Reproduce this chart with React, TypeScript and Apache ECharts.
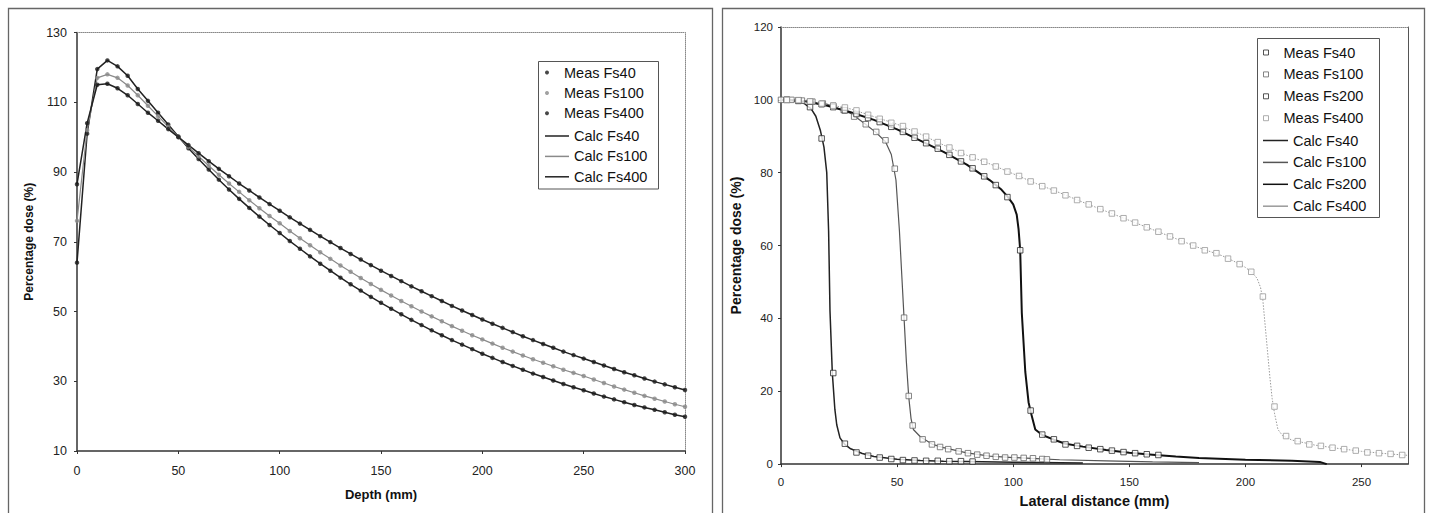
import React, { useEffect, useRef } from "react";
import * as echarts from "echarts";

const FONT = "'Liberation Sans', Arial, Helvetica, sans-serif";

// ---------- Left chart: depth dose ----------
const depthMm = [
  0, 5, 10, 15, 20, 25, 30, 35, 40, 45, 50,
  55, 60, 65, 70, 75, 80, 85, 90, 95, 100,
  105, 110, 115, 120, 125, 130, 135, 140, 145, 150,
  155, 160, 165, 170, 175, 180, 185, 190, 195, 200,
  205, 210, 215, 220, 225, 230, 235, 240, 245, 250,
  255, 260, 265, 270, 275, 280, 285, 290, 295, 300,
];
const measFs40 = [
  64, 101, 119.5, 122, 120.3, 117.6, 113.8, 110.4, 107, 103.6, 100.2,
  96.8, 93.7, 90.7, 87.8, 85.0, 82.3, 79.7, 77.2, 74.8, 72.5,
  70.2, 68.0, 65.8, 63.7, 61.7, 59.7, 57.8, 56.0, 54.2, 52.5,
  50.8, 49.2, 47.6, 46.1, 44.6, 43.2, 41.8, 40.5, 39.2, 37.9,
  36.7, 35.5, 34.4, 33.3, 32.2, 31.2, 30.2, 29.2, 28.3, 27.4,
  26.5, 25.6, 24.8, 24.0, 23.2, 22.5, 21.8, 21.1, 20.4, 19.8,
];
const measFs100 = [
  76, 102, 117, 118, 117, 114.8, 112, 109, 106, 103, 100,
  97.2, 94.5, 91.8, 89.2, 86.7, 84.3, 81.9, 79.6, 77.4, 75.3,
  73.1, 71.0, 69.0, 67.0, 65.1, 63.2, 61.4, 59.6, 57.9, 56.2,
  54.6, 53.0, 51.5, 50.0, 48.6, 47.2, 45.8, 44.5, 43.2, 42.0,
  40.8, 39.6, 38.5, 37.4, 36.3, 35.3, 34.3, 33.3, 32.4, 31.5,
  30.5, 29.5, 28.5, 27.6, 26.7, 25.8, 25.0, 24.2, 23.4, 22.7,
];
const measFs400 = [
  86.5, 104, 115, 115.3, 114, 112, 109.5, 107, 104.7, 102.3, 100,
  97.7, 95.4, 93.1, 90.9, 88.8, 86.7, 84.7, 82.7, 80.8, 78.9,
  77.0, 75.2, 73.4, 71.6, 69.9, 68.2, 66.5, 64.9, 63.3, 61.7,
  60.2, 58.7, 57.2, 55.8, 54.4, 53.0, 51.6, 50.3, 49.0, 47.7,
  46.5, 45.3, 44.1, 42.9, 41.8, 40.7, 39.6, 38.5, 37.5, 36.5,
  35.5, 34.5, 33.5, 32.6, 31.7, 30.8, 29.9, 29.1, 28.3, 27.5,
];
// calculated depth-dose curves coincide with the measurements
const calcFs40 = measFs40;
const calcFs100 = measFs100;
const calcFs400 = measFs400;

// ---------- Right chart: lateral profiles ([mm, %]) ----------
const latMeasFs40 = [
  [2.5, 100], [7.5, 99.7], [12.5, 98.0], [17.5, 89.4], [22.5, 25.0], [27.5, 5.6],
  [32.5, 3.2], [37.5, 2.3], [42.5, 1.8], [47.5, 1.4], [52.5, 1.1], [57.5, 1.0],
  [62.5, 0.9], [67.5, 0.9], [72.5, 0.8], [77.5, 0.8], [82.5, 0.7],
];
const latMeasFs100 = [
  [0, 100], [4.5, 100], [9, 99.8], [13.5, 99.5], [18, 99.0], [22.5, 98.4], [27, 97.2],
  [31.5, 95.4], [36.5, 93.3], [41, 91.2], [45, 88.9], [49, 81.1], [53, 40.2], [55, 18.7],
  [56.7, 10.6], [61, 6.8], [65, 5.4], [68.5, 4.7], [72, 4.1], [76.5, 3.5], [80.5, 3.0],
  [84.5, 2.6], [88.5, 2.3], [92.5, 2.0], [96.5, 1.8], [100.5, 1.8], [104.5, 1.7],
  [108.5, 1.6], [112.5, 1.4], [114.5, 1.3],
];
const latMeasFs200 = [
  [2.5, 100], [7.5, 99.9], [12.5, 99.5], [17.5, 98.8], [22.5, 98.0], [27.5, 97.1],
  [32.5, 96.1], [37.5, 95.0], [42.5, 93.9], [47.5, 92.6], [52.5, 91.2], [57.5, 89.6],
  [62.5, 88.1], [67.5, 86.6], [72.5, 84.9], [77.5, 83.1], [82.5, 81.2], [87.5, 79.0],
  [92.5, 76.6], [97.5, 73.3], [103, 58.7], [107.5, 14.7], [112.5, 8.1], [117.5, 6.8],
  [122.5, 5.4], [127.5, 5.0], [132.5, 4.5], [137.5, 4.1], [142.5, 3.7], [147.5, 3.3],
  [152.5, 3.0], [157.5, 2.7], [162.5, 2.5],
];
const latMeasFs400 = [
  [2.5, 100], [7.5, 99.9], [12.5, 99.6], [17.5, 99.0], [22.5, 98.4], [27.5, 97.9],
  [32.5, 97.1], [37.5, 95.9], [42.5, 94.8], [47.5, 93.7], [52.5, 92.8], [57.5, 91.3],
  [62.5, 89.9], [67.5, 88.4], [72.5, 86.9], [77.5, 85.4], [82.5, 84.2], [87.5, 83.0],
  [92.5, 81.7], [97.5, 80.3], [102.5, 79.1], [107.5, 77.6], [112.5, 76.3], [117.5, 75.1],
  [122.5, 73.8], [127.5, 72.5], [132.5, 71.3], [137.5, 70.0], [142.5, 68.8], [147.5, 67.5],
  [152.5, 66.3], [157.5, 65.0], [162.5, 63.8], [167.5, 62.5], [172.5, 61.2], [177.5, 60.0],
  [182.5, 58.7], [187.5, 57.9], [192.5, 56.4], [197.5, 54.9], [202.5, 52.8], [207.5, 46.0],
  [212.5, 15.8], [217.5, 7.7], [222.5, 6.3], [227.5, 5.4], [232.5, 5.0], [237.5, 4.5],
  [242.5, 4.1], [247.5, 3.7], [252.5, 3.2], [257.5, 3.0], [262.5, 2.8], [267.5, 2.5],
];
const latCalcFs40 = [
  [0, 100], [5, 99.8], [10, 99.0], [13, 97.5], [15, 95.5], [17, 91.5], [18.5, 87],
  [19.7, 80], [20.5, 64], [21.1, 42], [22.1, 25], [23.2, 15], [24, 10.8], [25.4, 7.2],
  [27.5, 5.4], [30, 4.2], [35, 2.9], [40, 2.1], [50, 1.3], [60, 1.0], [70, 0.8],
  [80, 0.7], [100, 0.5], [130, 0.3],
];
const latCalcFs100 = [
  [0, 100], [10, 99.7], [20, 98.8], [30, 96.3], [36, 93.5], [41, 91], [45, 88.5],
  [47.5, 85], [49.5, 78], [51, 64], [52, 52], [53, 40], [54, 28], [55, 18.5], [56, 12.5],
  [57, 9.5], [60, 7.5], [65, 5.5], [70, 4.5], [80, 3.1], [90, 2.2], [100, 1.8],
  [110, 1.5], [120, 1.2], [140, 0.9], [160, 0.6], [180, 0.4],
];
const latCalcFs200 = [
  [0, 100], [10, 99.7], [20, 98.4], [30, 96.6], [40, 94.5], [50, 91.9], [60, 88.8],
  [70, 85.7], [80, 82.2], [90, 77.9], [95, 75.3], [97.5, 73.5], [100, 71.3], [101.5, 68.5],
  [102.3, 64.5], [103, 58.7], [103.7, 41.5], [105.2, 25.3], [106.6, 17], [107.6, 14.2],
  [109.5, 9.5], [112.5, 8.0], [117.5, 6.7], [122.5, 5.6], [130, 4.8], [140, 3.9],
  [150, 3.1], [160, 2.6], [170, 2.1], [180, 1.7], [200, 1.2], [220, 0.9], [232, 0.6],
  [235, 0],
];
const latCalcFs400 = [
  [0, 100], [10, 99.8], [20, 98.8], [30, 97.5], [40, 95.4], [50, 93.3], [60, 90.6],
  [70, 87.6], [80, 84.8], [90, 82.4], [100, 79.7], [110, 77], [120, 74.5], [130, 71.9],
  [140, 69.4], [150, 66.9], [160, 64.4], [170, 61.9], [180, 59.4], [190, 57.2],
  [195, 55.7], [200, 54.0], [203, 52.5], [205, 51], [206.5, 48.5], [207.5, 45],
  [208.5, 38], [209.5, 31], [210.5, 24], [211.5, 18], [212.5, 14], [214, 9.5],
  [216, 7.8], [220, 6.6], [230, 5.2], [240, 4.3], [250, 3.5], [260, 2.9], [270, 2.4],
];

const leftMeasNames = ["Meas Fs40", "Meas Fs100", "Meas Fs400"];
const leftCalcNames = ["Calc Fs40", "Calc Fs100", "Calc Fs400"];
const rightMeasNames = ["Meas Fs40", "Meas Fs100", "Meas Fs200", "Meas Fs400"];
const rightCalcNames = ["Calc Fs40", "Calc Fs100", "Calc Fs200", "Calc Fs400"];

const pairs = (xs: number[], ys: number[]) => xs.map((x, i) => [x, ys[i]]);

const tickLabel = (size: number, margin: number) => ({
  fontSize: size,
  color: "#222",
  margin,
  fontFamily: FONT,
});
const mainLine = { show: true, onZero: false, lineStyle: { color: "#333", width: 1.5 } };
const mainTick = { show: true, length: 3, lineStyle: { color: "#333", width: 1 } };
const dottedLine = { show: true, onZero: false, lineStyle: { color: "#888", width: 1, type: [1, 1] } };
const hidden = { axisTick: { show: false }, axisLabel: { show: false }, splitLine: { show: false } };
const legendText = { fontSize: 14.5, color: "#111", fontFamily: FONT };

function leftOption(): any {
  const meas = [measFs40, measFs100, measFs400];
  const calc = [calcFs40, calcFs100, calcFs400];
  const measColors = ["#1a1a1a", "#8a8a8a", "#1a1a1a"];
  const calcColors = ["#222", "#8a8a8a", "#222"];
  const calcWidths = [1.5, 1.2, 1.5];
  return {
    animation: false,
    textStyle: { fontFamily: FONT },
    grid: { left: 77, top: 32.5, width: 608, height: 418.5 },
    xAxis: [
      {
        type: "value", min: 0, max: 300, interval: 50, position: "bottom",
        axisLine: mainLine, axisTick: mainTick, axisLabel: tickLabel(12.5, 13),
        splitLine: { show: false },
        name: "Depth (mm)", nameLocation: "middle", nameGap: 37,
        nameTextStyle: { fontSize: 13, fontWeight: "bold", color: "#111", fontFamily: FONT },
      },
      { type: "value", min: 0, max: 300, position: "top", axisLine: dottedLine, ...hidden },
    ],
    yAxis: [
      {
        type: "value", min: 10, max: 130, interval: 20, position: "left",
        axisLine: mainLine, axisTick: mainTick, axisLabel: tickLabel(12.5, 10),
        splitLine: { show: false },
        name: "Percentage dose (%)", nameLocation: "middle", nameGap: 40,
        nameTextStyle: { fontSize: 12, fontWeight: "bold", color: "#111", fontFamily: FONT },
      },
      { type: "value", min: 10, max: 130, position: "right", axisLine: dottedLine, ...hidden },
    ],
    legend: [
      {
        orient: "vertical", left: 545, top: 65, padding: 0, itemWidth: 24, itemHeight: 4,
        itemGap: 5.4, selectedMode: false, icon: "circle", itemStyle: { borderWidth: 0 },
        textStyle: legendText, data: leftMeasNames, z: 5,
      },
      {
        orient: "vertical", left: 545, top: 128.5, padding: 0, itemWidth: 24, itemHeight: 1.5,
        itemGap: 5.4, selectedMode: false, icon: "rect", itemStyle: { borderWidth: 0 },
        textStyle: legendText, data: leftCalcNames, z: 5,
      },
    ],
    graphic: [
      {
        type: "polyline", silent: true,
        shape: { points: [[8.5, 513], [8.5, 8.5], [712.5, 8.5], [712.5, 513]] },
        style: { stroke: "#666", lineWidth: 1.3, fill: "none" },
      },
      {
        type: "rect", silent: true, z: 3,
        shape: { x: 538.5, y: 61.5, width: 120, height: 127.5 },
        style: { stroke: "#555", lineWidth: 1, fill: "#fff" },
      },
    ],
    series: [
      ...calc.map((c, i) => ({
        type: "line", name: leftCalcNames[i], data: pairs(depthMm, c),
        symbol: "none", showSymbol: false, silent: true, z: 2,
        lineStyle: { color: calcColors[i], width: calcWidths[i] },
        itemStyle: { color: calcColors[i] },
      })),
      ...meas.map((m, i) => ({
        type: "scatter", name: leftMeasNames[i], data: pairs(depthMm, m),
        symbol: "circle", symbolSize: 4.5, silent: true, z: 3,
        itemStyle: { color: measColors[i] },
      })),
    ],
  };
}

function rightOption(): any {
  const meas = [latMeasFs40, latMeasFs100, latMeasFs200, latMeasFs400];
  const calc = [latCalcFs40, latCalcFs100, latCalcFs200, latCalcFs400];
  const measColors = ["#2a2a2a", "#666", "#2a2a2a", "#9a9a9a"];
  const calcColors = ["#222", "#555", "#111", "#9a9a9a"];
  const calcWidths = [1.5, 1.2, 2, 1];
  const calcTypes: any[] = ["solid", "solid", "solid", [1.5, 1.5]];
  return {
    animation: false,
    textStyle: { fontFamily: FONT },
    grid: { left: 64, top: 27, width: 627, height: 443 },
    xAxis: [
      {
        type: "value", min: 0, max: 270, interval: 50, position: "bottom",
        axisLine: mainLine, axisTick: mainTick,
        axisLabel: { ...tickLabel(11.5, 12), showMaxLabel: false },
        splitLine: { show: false },
        name: "Lateral distance (mm)", nameLocation: "middle", nameGap: 19,
        nameTextStyle: { fontSize: 14.5, fontWeight: "bold", color: "#111", fontFamily: FONT },
      },
      { type: "value", min: 0, max: 270, position: "top", axisLine: dottedLine, ...hidden },
    ],
    yAxis: [
      {
        type: "value", min: 0, max: 120, interval: 20, position: "left",
        axisLine: mainLine, axisTick: mainTick, axisLabel: tickLabel(11.5, 8),
        splitLine: { show: false },
        name: "Percentage dose (%)", nameLocation: "middle", nameGap: 32,
        nameTextStyle: { fontSize: 14, fontWeight: "bold", color: "#111", fontFamily: FONT },
      },
      {
        type: "value", min: 0, max: 120, position: "right",
        axisLine: { show: true, onZero: false, lineStyle: { color: "#555", width: 1 } }, ...hidden,
      },
    ],
    legend: [
      {
        orient: "vertical", left: 546, top: 45, padding: 0, itemWidth: 25, itemHeight: 5,
        itemGap: 6.9, selectedMode: false, icon: "path://M0,0L10,0L10,10L0,10Z",
        itemStyle: { borderWidth: 1 }, textStyle: legendText, data: rightMeasNames, z: 5,
      },
      {
        orient: "vertical", left: 546, top: 133, padding: 0, itemWidth: 25, itemHeight: 1.5,
        itemGap: 6.9, selectedMode: false, icon: "rect", itemStyle: { borderWidth: 0 },
        textStyle: legendText, data: rightCalcNames, z: 5,
      },
    ],
    graphic: [
      {
        type: "polyline", silent: true,
        shape: { points: [[5.5, 513], [5.5, 8.5], [707.5, 8.5], [707.5, 513]] },
        style: { stroke: "#666", lineWidth: 1.3, fill: "none" },
      },
      {
        type: "rect", silent: true, z: 3,
        shape: { x: 540.5, y: 38.5, width: 122, height: 179 },
        style: { stroke: "#555", lineWidth: 1, fill: "#fff" },
      },
    ],
    series: [
      ...calc.map((c, i) => ({
        type: "line", name: rightCalcNames[i], data: c,
        symbol: "none", showSymbol: false, silent: true, z: 2,
        lineStyle: { color: calcColors[i], width: calcWidths[i], type: calcTypes[i] },
        itemStyle: { color: calcColors[i] },
      })),
      ...meas.map((m, i) => ({
        type: "scatter", name: rightMeasNames[i], data: m,
        symbol: "rect", symbolSize: 5.5, silent: true, z: 3,
        itemStyle: { color: "#fff", borderColor: measColors[i], borderWidth: 1 },
      })),
    ],
  };
}

export default function App() {
  const leftRef = useRef<HTMLDivElement>(null);
  const rightRef = useRef<HTMLDivElement>(null);
  useEffect(() => {
    const l = echarts.init(leftRef.current!, undefined, { renderer: "svg" });
    const r = echarts.init(rightRef.current!, undefined, { renderer: "svg" });
    l.setOption(leftOption());
    r.setOption(rightOption());
    return () => {
      l.dispose();
      r.dispose();
    };
  }, []);
  return (
    <div style={{ position: "fixed", left: 0, top: 0, width: 1431, height: 513, background: "#fff" }}>
      <div ref={leftRef} style={{ position: "absolute", left: 0, top: 0, width: 717, height: 513 }} />
      <div ref={rightRef} style={{ position: "absolute", left: 717, top: 0, width: 714, height: 513 }} />
    </div>
  );
}
